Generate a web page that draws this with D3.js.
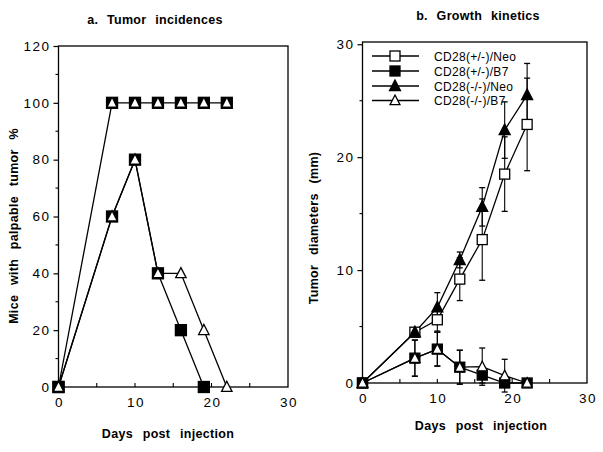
<!DOCTYPE html>
<html><head><meta charset="utf-8">
<script src="https://cdn.jsdelivr.net/npm/d3@7"></script>
<style>
body{margin:0;background:#fff;}
svg{display:block;font-family:"Liberation Sans",Arial,Helvetica,sans-serif;}
</style></head>
<body>
<svg id="c" width="603" height="452"></svg>
<script>
// ---------- DATA ----------
const days = [0, 7, 10, 13, 16, 19, 22];
const seriesNames = ["CD28(+/-)/Neo", "CD28(+/-)/B7", "CD28(-/-)/Neo", "CD28(-/-)/B7"];

// Panel a: tumor incidence (%)
const incNeo   = [0, 100, 100, 100, 100, 100, 100];   // both Neo groups
const incB7pm  = [0, 60, 80, 40, 20, 0];              // CD28(+/-)/B7, days 0..19
const incB7mm  = [0, 60, 80, 40, 40, 20, 0];          // CD28(-/-)/B7

// Panel b: growth kinetics (mm), mean and error
const diaNeoPM = [0, 4.5, 5.6, 9.2, 12.7, 18.5, 22.9];
const errNeoPM = [0, 0.4, 1.0, 1.9, 3.6, 3.3, 4.1];
const diaB7PM  = [0, 2.2, 3.0, 1.4, 0.7, 0, 0];
const errB7PM  = [0, 1.6, 1.5, 1.5, 0.7, 0, 0];
const diaNeoMM = [0, 4.5, 6.7, 10.9, 15.6, 22.4, 25.5];
const errNeoMM = [0, 0.4, 1.3, 0.7, 1.7, 2.5, 2.8];
const diaB7MM  = [0, 2.2, 3.0, 1.4, 1.45, 0.65, 0];
const errB7MM  = [0, 1.6, 1.5, 1.5, 1.65, 1.45, 0];

const xTicks = [0, 10, 20, 30];
const yTicksA = [0, 20, 40, 60, 80, 100, 120];
const yTicksB = [0, 10, 20, 30];

// ---------- DRAW ----------
const svg = d3.select("#c");
const tickFont = 13.5;

function marker(g, type, x, y, s) {
  const h = s / 2;
  if (type === "sqOpen" || type === "sqFill" || type === "sqTri") {
    g.append("rect").attr("x", x - h).attr("y", y - h).attr("width", s).attr("height", s)
      .attr("fill", type === "sqOpen" ? "#fff" : "#000").attr("stroke", "#000").attr("stroke-width", 1.3);
    if (type === "sqTri") {
      const t = s * 0.72;
      g.append("path").attr("d", `M${x},${y - t*0.55}L${x + t/2},${y + t*0.45}L${x - t/2},${y + t*0.45}Z`)
        .attr("fill", "#fff").attr("stroke", "none");
    }
  } else {
    const t = s * 1.1;
    g.append("path").attr("d", `M${x},${y - t*0.55}L${x + t/2},${y + t*0.42}L${x - t/2},${y + t*0.42}Z`)
      .attr("fill", type === "triFill" ? "#000" : "#fff").attr("stroke", "#000").attr("stroke-width", 1.3)
      .attr("stroke-linejoin", "miter");
  }
}

function panel(opt) {
  const x = d3.scaleLinear().domain([0, 30]).range([opt.left, opt.right]);
  const y = d3.scaleLinear().domain([0, opt.ymax]).range([opt.bottom, opt.top]);
  const g = svg.append("g");
  g.append("rect").attr("x", opt.left).attr("y", opt.top)
    .attr("width", opt.right - opt.left).attr("height", opt.bottom - opt.top)
    .attr("fill", "none").attr("stroke", "#000").attr("stroke-width", 1.3);
  const ya = g.append("g").attr("transform", `translate(${opt.left},0)`)
    .call(d3.axisLeft(y).tickValues(opt.yTicks).tickSize(5).tickPadding(3).tickFormat(d3.format("d")));
  ya.select(".domain").remove();
  ya.selectAll("line").attr("stroke-width", 1.2);
  ya.selectAll("text").attr("font-size", tickFont).attr("letter-spacing", 1.5)
    .attr("font-family", "Liberation Sans, Arial, sans-serif");
  const yMinor = opt.yTicks.slice(0, -1).map((d, i) => (d + opt.yTicks[i + 1]) / 2);
  g.selectAll(".ymin").data(yMinor).join("line")
    .attr("x1", opt.left - 3).attr("x2", opt.left).attr("y1", d => y(d)).attr("y2", d => y(d))
    .attr("stroke", "#000").attr("stroke-width", 1.1);
  g.selectAll(".xt").data(d3.range(5, 30, 5)).join("line")
    .attr("x1", d => x(d)).attr("x2", d => x(d)).attr("y1", opt.bottom).attr("y2", opt.bottom - 4)
    .attr("stroke", "#000").attr("stroke-width", 1.1);
  g.selectAll(".xl").data(xTicks).join("text")
    .attr("x", d => x(d) + 1).attr("y", opt.bottom + 20).attr("text-anchor", "middle")
    .attr("font-size", tickFont).attr("letter-spacing", 1.5).text(d => d);
  g.append("text").attr("x", opt.titleX).attr("y", opt.titleY).attr("text-anchor", "middle")
    .attr("font-weight", "bold").attr("font-size", 12.5).attr("letter-spacing", 0.3)
    .attr("word-spacing", 5).text(opt.title);
  g.append("text").attr("x", opt.xlabX).attr("y", opt.xlabY).attr("text-anchor", "middle")
    .attr("font-weight", "bold").attr("font-size", 12.5).attr("letter-spacing", 0.3)
    .attr("word-spacing", 6).text("Days post injection");
  g.append("text").attr("transform", `translate(${opt.ylabX},${opt.ylabY}) rotate(-90)`)
    .attr("text-anchor", "middle").attr("font-weight", "bold").attr("font-size", 12.5)
    .attr("letter-spacing", 0.3).attr("word-spacing", 6).text(opt.ylab);
  return {x, y, g};
}

function drawSeries(p, vals, errs) {
  const pts = vals.map((v, i) => [days[i], v, errs ? errs[i] : 0]);
  const line = d3.line().x(d => p.x(d[0])).y(d => p.y(d[1]));
  p.g.append("path").attr("d", line(pts)).attr("fill", "none").attr("stroke", "#000").attr("stroke-width", 1.3);
  return pts;
}
function drawErr(p, pts) {
  pts.filter(d => d[2] > 0).forEach(d => {
    const cx = p.x(d[0]);
    p.g.append("line").attr("x1", cx).attr("x2", cx).attr("y1", p.y(d[1] - d[2])).attr("y2", p.y(d[1] + d[2]))
      .attr("stroke", "#000").attr("stroke-width", 1.1);
    [d[1] - d[2], d[1] + d[2]].forEach(v => {
      p.g.append("line").attr("x1", cx - 3).attr("x2", cx + 3).attr("y1", p.y(v)).attr("y2", p.y(v))
        .attr("stroke", "#000").attr("stroke-width", 1.3);
    });
  });
}
function drawMarkers(p, pts, type, size) {
  pts.forEach(d => marker(p.g, type, p.x(d[0]), p.y(d[1]), size));
}

// Panel a
const pa = panel({left: 58.5, right: 288, top: 46, bottom: 387, ymax: 120, yTicks: yTicksA,
  title: "a. Tumor incidences", titleX: 155, titleY: 24,
  xlabX: 168, xlabY: 438, ylab: "Mice with palpable tumor %", ylabX: 18, ylabY: 226});
const aNeo = drawSeries(pa, incNeo);
const aPM = drawSeries(pa, incB7pm);
const aMM = drawSeries(pa, incB7mm);
drawMarkers(pa, aNeo, "sqTri", 11);
drawMarkers(pa, aPM, "sqFill", 11);
drawMarkers(pa, aMM, "triOpen", 9.5);

// Panel b
const pb = panel({left: 362.5, right: 587, top: 42, bottom: 383, ymax: 30.2, yTicks: yTicksB,
  title: "b. Growth kinetics", titleX: 478, titleY: 20,
  xlabX: 481, xlabY: 430, ylab: "Tumor diameters (mm)", ylabX: 318, ylabY: 228});
const b1 = drawSeries(pb, diaNeoPM, errNeoPM);
const b2 = drawSeries(pb, diaB7PM, errB7PM);
const b3 = drawSeries(pb, diaNeoMM, errNeoMM);
const b4 = drawSeries(pb, diaB7MM, errB7MM);
[b1, b2, b3, b4].forEach(s => drawErr(pb, s));
drawMarkers(pb, b1, "sqOpen", 10);
drawMarkers(pb, b2, "sqFill", 10);
drawMarkers(pb, b3, "triFill", 10);
drawMarkers(pb, b4, "triOpen", 9);

// Legend
const legTypes = ["sqOpen", "sqFill", "triFill", "triOpen"];
const legY = [56, 71, 86, 100.5];
seriesNames.forEach((name, i) => {
  const ly = legY[i];
  pb.g.append("line").attr("x1", 372).attr("x2", 419).attr("y1", ly).attr("y2", ly)
    .attr("stroke", "#000").attr("stroke-width", 1.3);
  marker(pb.g, legTypes[i], 395, ly, legTypes[i] === "triOpen" ? 9 : 10);
  pb.g.append("text").attr("x", 434).attr("y", ly + 4.5).attr("font-size", 12)
    .attr("letter-spacing", 0.3).text(name);
});
</script>
</body></html>
